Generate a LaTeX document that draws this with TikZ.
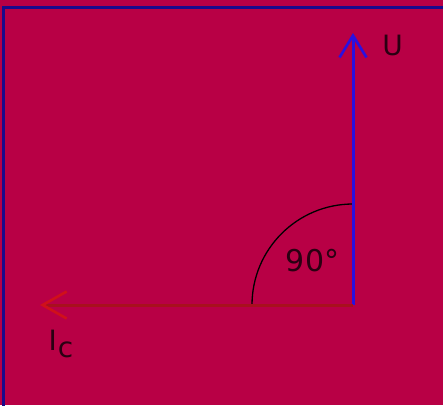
\documentclass[tikz,border=0pt]{standalone}
\usepackage{fontspec}
\setmainfont{DejaVu Sans}
\usetikzlibrary{arrows.meta}
\definecolor{bgred}{HTML}{B80045}
\definecolor{framebl}{HTML}{1A0A8C}
\definecolor{ublue}{HTML}{2A10E0}
\definecolor{icred}{HTML}{A8101E}
\definecolor{ichead}{HTML}{D0101A}
\definecolor{labdark}{HTML}{2A0012}
\tikzset{
  vec/.style={line width=3pt, -{Straight Barb[length=22pt, width=27pt, line width=2.6pt]}},
  lab/.style={text=labdark, inner sep=0pt, font=\fontsize{28}{32}\selectfont}
}
\begin{document}
\begin{tikzpicture}[x=1pt,y=1pt]
\useasboundingbox (0,0) rectangle (443,405);
\fill[bgred] (0,0) rectangle (443,405);
\draw[framebl, line width=3pt] (3.5,-10) -- (3.5,397) -- (460,397);
\coordinate (O) at (353,100);
\coordinate (U) at (353,372);
\coordinate (Ic) at (40,100);
\draw[black, line width=1.3pt] (O) ++(-101,0) arc (180:90:101);
\draw[vec, ublue] (O) -- (U);
\draw[vec, icred, -{Straight Barb[length=24pt, width=27pt, line width=2.6pt, color=ichead]}] (O) -- (Ic);
\node[lab] (ulab) at (392.5,360) {U};
\node[lab, font=\fontsize{30}{34}\selectfont] (anglab) at (312.5,144.5) {90°};
\node[lab] (iclab) at (61,61) {I\kern1pt\raisebox{-7pt}{c}};
\end{tikzpicture}
\end{document}
